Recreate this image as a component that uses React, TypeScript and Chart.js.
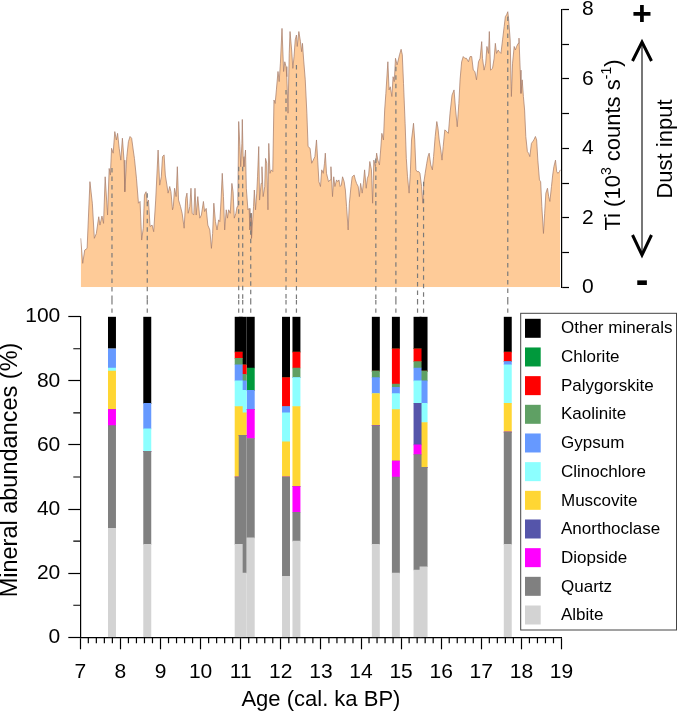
import React, { useEffect, useRef } from "react";
import { Chart, registerables } from "chart.js";

Chart.register(...registerables);

const FONT = "'Liberation Sans', Arial, Helvetica, sans-serif";
Chart.defaults.font.family = FONT;
Chart.defaults.color = "#000";

// ---------------- data ----------------
// Ti record (age in cal. ka BP, Ti in 10^3 counts s^-1)
const tiAge = [
  7.01, 7.06, 7.11, 7.17, 7.24, 7.30, 7.35, 7.40, 7.46, 7.49,
  7.54, 7.58, 7.62, 7.68, 7.72, 7.75, 7.78, 7.82, 7.86, 7.90,
  7.93, 7.97, 8.01, 8.05, 8.09, 8.11, 8.16, 8.20, 8.24, 8.28,
  8.32, 8.35, 8.40, 8.45, 8.49, 8.53, 8.57, 8.60, 8.64, 8.67,
  8.70, 8.74, 8.79, 8.83, 8.88, 8.94, 8.98, 9.02, 9.05, 9.09,
  9.12, 9.16, 9.19, 9.23, 9.26, 9.30, 9.32, 9.35, 9.39, 9.42,
  9.45, 9.50, 9.54, 9.59, 9.63, 9.66, 9.69, 9.73, 9.76, 9.79,
  9.83, 9.86, 9.89, 9.93,
  9.98, 10.02, 10.07, 10.10, 10.14, 10.18, 10.23, 10.27, 10.30, 10.33,
  10.37, 10.41, 10.45, 10.48, 10.51, 10.54, 10.57, 10.60, 10.64, 10.67,
  10.70, 10.74, 10.78, 10.81, 10.84, 10.88, 10.91, 10.93, 10.95, 10.98,
  11.00, 11.03, 11.04, 11.06, 11.08, 11.12, 11.14, 11.18, 11.21, 11.23,
  11.26, 11.27, 11.30, 11.32, 11.34, 11.37, 11.40, 11.42, 11.45, 11.47,
  11.51, 11.53, 11.56, 11.60, 11.62, 11.65, 11.68, 11.70, 11.73, 11.76,
  11.80, 11.83, 11.86, 11.89, 11.93, 11.96, 11.99, 12.03, 12.07, 12.10,
  12.13, 12.15, 12.18, 12.21, 12.23, 12.27, 12.30, 12.33, 12.36, 12.39,
  12.41, 12.45, 12.49, 12.52, 12.54, 12.57, 12.61, 12.65, 12.68, 12.73,
  12.77, 12.81, 12.85, 12.89, 12.92, 12.95, 12.99, 13.02, 13.06, 13.09,
  13.11, 13.14, 13.19, 13.23, 13.25, 13.29, 13.32, 13.35, 13.39, 13.42,
  13.45, 13.48, 13.51, 13.54, 13.58, 13.61, 13.64, 13.68, 13.71, 13.75,
  13.78, 13.83, 13.86, 13.89, 13.93, 13.96, 13.99, 14.03, 14.06, 14.09,
  14.13, 14.16, 14.19, 14.22, 14.26, 14.29, 14.32, 14.36, 14.39, 14.42,
  14.46, 14.49, 14.52, 14.56, 14.59, 14.62, 14.67, 14.70, 14.73, 14.77,
  14.80, 14.83, 14.86, 14.90, 14.93, 14.96, 15.00, 15.03, 15.06, 15.10,
  15.13, 15.16, 15.20, 15.23, 15.26, 15.31, 15.34, 15.37, 15.40, 15.44,
  15.47, 15.51, 15.54, 15.57, 15.60, 15.64, 15.67, 15.70, 15.74, 15.78,
  15.81, 15.85, 15.89, 15.92, 15.95, 15.99, 16.02, 16.05, 16.09,
  16.14, 16.18, 16.22, 16.27, 16.32, 16.36, 16.40, 16.44, 16.47, 16.51,
  16.55, 16.59, 16.63, 16.68, 16.72, 16.76, 16.80, 16.84, 16.88, 16.93,
  16.97, 17.01, 17.03, 17.07, 17.11, 17.14, 17.18, 17.20, 17.23, 17.28,
  17.32, 17.35, 17.38, 17.42, 17.45, 17.49, 17.53, 17.57, 17.60, 17.63,
  17.66, 17.68, 17.72, 17.75, 17.78, 17.82, 17.85, 17.88, 17.92, 17.94,
  17.97, 17.99, 18.02, 18.05, 18.08, 18.11, 18.15, 18.18, 18.21, 18.25,
  18.28, 18.31, 18.35, 18.38, 18.41, 18.45, 18.48, 18.51, 18.55, 18.58,
  18.61, 18.65, 18.68, 18.71, 18.75, 18.78, 18.81, 18.85, 18.88, 18.91,
  18.95, 18.97,
];
const tiValue = [
  1.41, 0.69, 1.07, 1.12, 3.04, 2.42, 1.41, 1.55, 2.03, 1.79,
  2.05, 1.84, 3.18, 2.08, 3.42, 3.23, 4.00, 3.86, 4.48, 4.24,
  4.43, 4.00, 3.66, 4.29, 3.66, 2.75, 3.76, 4.19, 4.34, 4.29,
  3.95, 3.71, 3.14, 2.42, 2.47, 1.36, 1.70, 2.66, 2.75, 2.42,
  2.51, 1.75, 1.79, 1.60, 2.51, 3.95, 2.94, 3.18, 3.76, 3.81,
  3.23, 2.94, 2.71, 2.90, 2.75, 2.23, 2.32, 2.85, 2.61, 3.47,
  2.51, 2.32, 2.13, 1.70, 2.56, 2.71, 2.13, 2.32, 2.85, 2.13,
  2.08, 2.85, 2.08, 2.61,
  1.99, 2.08, 2.47, 2.18, 2.27, 1.79, 1.65, 1.12, 1.55, 2.42,
  1.89, 1.65, 1.94, 1.89, 2.51, 3.28, 2.61, 1.65, 2.23, 1.99,
  2.23, 2.13, 2.99, 2.75, 1.99, 2.13, 2.32, 2.61, 4.77, 4.05,
  3.47, 4.14, 4.83, 3.76, 3.47, 3.95, 2.85, 2.23, 2.27, 1.65,
  2.13, 1.41, 1.94, 2.32, 2.80, 2.23, 2.71, 3.18, 4.05, 2.51,
  2.99, 3.47, 2.61, 2.90, 3.71, 3.57, 2.23, 4.14, 3.28, 3.38,
  3.33, 5.39, 5.29, 5.68, 6.21, 5.92, 6.45, 7.45, 6.21, 6.49,
  6.35, 6.06, 5.01, 6.73, 7.36, 6.83, 6.30, 6.64, 7.12, 7.26,
  6.93, 7.36, 7.07, 6.78, 7.02, 6.54, 5.97, 5.01, 4.05, 4.00,
  3.57, 3.66, 3.76, 4.24, 3.66, 3.04, 2.90, 3.38, 3.28, 3.57,
  3.86, 3.28, 3.04, 3.09, 3.47, 2.61, 3.18, 2.90, 3.09, 3.04,
  3.09, 2.90, 2.94, 3.18, 3.04, 2.80, 2.32, 1.65, 2.42, 2.90,
  3.18, 3.23, 3.09, 2.99, 2.90, 2.61, 2.99, 2.71, 2.99, 3.38,
  2.85, 3.14, 3.23, 3.62, 3.38, 2.42, 3.66, 3.47, 3.86, 3.66,
  3.52, 3.95, 4.43, 4.24, 5.10, 5.58, 6.49, 5.68, 5.77, 5.49,
  6.06, 5.92, 6.59, 6.40, 6.54, 6.69, 6.85, 6.69, 5.87, 4.72,
  3.71, 3.18, 2.71, 3.28, 4.24, 4.72, 4.24, 3.38, 3.33, 3.33,
  3.28, 2.90, 2.42, 3.04, 3.28, 3.57, 3.76, 3.86, 3.52, 3.38,
  3.76, 4.34, 4.77, 4.58, 4.24, 3.95, 3.66, 4.05, 4.53,
  4.48, 4.43, 5.01, 5.53, 5.68, 5.10, 4.62, 5.29, 5.97, 6.49,
  6.64, 6.59, 6.59, 6.49, 6.64, 6.64, 6.25, 6.21, 5.97, 6.49,
  6.59, 7.07, 6.59, 6.25, 6.45, 6.93, 6.73, 7.36, 6.25, 6.30,
  6.59, 7.02, 6.73, 6.83, 6.78, 6.73, 7.12, 7.50, 7.79, 7.84,
  7.93, 7.74, 7.12, 5.49, 6.45, 6.93, 6.83, 6.93, 7.02, 7.17,
  6.25, 5.58, 5.97, 5.49, 5.10, 4.34, 3.90, 3.86, 3.76, 4.14,
  4.19, 4.24, 4.34, 4.24, 3.66, 3.09, 3.04, 2.32, 1.55, 2.13,
  2.71, 2.85, 2.61, 2.47, 2.90, 3.23, 3.47, 3.66, 3.33, 3.28,
  3.33, 3.38,
];

// Mineral samples (age in cal. ka BP)
const sampleAge = [7.79, 8.67, 10.95, 11.05, 11.25, 12.13, 12.39, 14.37, 14.87, 15.41, 15.56, 17.66];
// Ti level where each connecting dashed line starts
const tiAtSample = [3.43, 2.71, 3.47, 3.47, 2.13, 5.68, 6.4, 3.71, 6.35, 3.09, 3.04, 7.79];

// Mineral abundances (%) per sample
const albite = [34, 29, 29, 20, 31, 19, 30, 29, 20, 21, 22, 29];
const quartz = [32, 29, 21, 43, 31, 31, 9, 37, 30, 36, 31, 35];
const diopside = [5, 0, 0, 0, 9, 0, 8, 0, 5, 3, 0, 0];
const anorthoclase = [0, 0, 0, 0, 0, 0, 0, 0, 0, 13, 0, 0];
const muscovite = [12, 0, 22, 7, 0, 11, 25, 10, 16, 0, 14, 9];
const clinochlore = [1, 7, 8, 7, 0, 9, 9, 0, 5, 7, 6, 12];
const gypsum = [6, 8, 5, 3, 6, 2, 0, 5, 2, 4, 7, 1];
const kaolinite = [0, 0, 2, 2, 0, 0, 3, 2, 1, 2, 3, 0];
const palygorskite = [0, 0, 2, 3, 0, 9, 5, 0, 11, 4, 0, 3];
const chlorite = [0, 0, 0, 0, 7, 0, 0, 0, 0, 0, 0, 0];
const otherMinerals = [10, 27, 11, 15, 16, 19, 11, 17, 10, 10, 17, 11];

const mineralNames = [
  "Albite", "Quartz", "Diopside", "Anorthoclase", "Muscovite", "Clinochlore",
  "Gypsum", "Kaolinite", "Palygorskite", "Chlorite", "Other minerals",
];
const mineralValues = [
  albite, quartz, diopside, anorthoclase, muscovite, clinochlore,
  gypsum, kaolinite, palygorskite, chlorite, otherMinerals,
];
const mineralColors = [
  "#d3d3d3", "#808080", "#ff00ff", "#5555aa", "#ffd633", "#8cffff",
  "#6699ff", "#5fa064", "#ff0000", "#00993c", "#000000",
];

// ---------------- layout ----------------
const W = 677;
const TOP_H = 300;
const BOT_H = 412;
const PLOT_L = 80.3;
const PLOT_R = 561.5;
const TI_TOP = 9.3;
const TI_BOTTOM = 287.3;
const MIN_TOP = 16.7; // bottom canvas coords
const MIN_BOTTOM = 337.3;

const topDecor = {
  id: "topDecor",
  afterDatasetsDraw(chart: any) {
    const { ctx } = chart;
    const xs = chart.scales.x;
    const ys = chart.scales.y;
    ctx.save();
    ctx.strokeStyle = "#7a7a7a";
    ctx.lineWidth = 1.2;
    ctx.setLineDash([4.5, 4]);
    sampleAge.forEach((a, i) => {
      const px = xs.getPixelForValue(a);
      ctx.beginPath();
      ctx.moveTo(px, ys.getPixelForValue(tiAtSample[i]));
      ctx.lineTo(px, chart.height);
      ctx.stroke();
    });
    ctx.restore();
  },
  afterDraw(chart: any) {
    const { ctx } = chart;
    // Axis title with superscripts
    const parts: [string, number, number][] = [
      ["Ti (10", 22, 0],
      ["3", 14, -9],
      [" counts s", 22, 0],
      ["-1", 14, -9],
      [")", 22, 0],
    ];
    ctx.save();
    let total = 0;
    parts.forEach((p) => {
      ctx.font = `${p[1]}px ${FONT}`;
      total += ctx.measureText(p[0]).width;
    });
    ctx.translate(620, 145);
    ctx.rotate(-Math.PI / 2);
    ctx.fillStyle = "#000";
    ctx.textAlign = "left";
    ctx.textBaseline = "alphabetic";
    let cx = -total / 2;
    parts.forEach((p) => {
      ctx.font = `${p[1]}px ${FONT}`;
      ctx.fillText(p[0], cx, p[2]);
      cx += ctx.measureText(p[0]).width;
    });
    ctx.restore();

    // Dust input label
    ctx.save();
    ctx.translate(671.5, 149);
    ctx.rotate(-Math.PI / 2);
    ctx.font = `22px ${FONT}`;
    ctx.fillStyle = "#000";
    ctx.textAlign = "center";
    ctx.textBaseline = "alphabetic";
    ctx.fillText("Dust input", 0, 0);
    ctx.restore();

    // Double arrow
    ctx.save();
    ctx.strokeStyle = "#555";
    ctx.lineWidth = 1.6;
    ctx.beginPath();
    ctx.moveTo(642, 44);
    ctx.lineTo(642, 253);
    ctx.stroke();
    ctx.strokeStyle = "#000";
    ctx.lineWidth = 3;
    ctx.lineJoin = "miter";
    ctx.beginPath();
    ctx.moveTo(632.5, 61);
    ctx.lineTo(642, 42);
    ctx.lineTo(651.5, 61);
    ctx.stroke();
    ctx.beginPath();
    ctx.moveTo(632.5, 235);
    ctx.lineTo(642, 255);
    ctx.lineTo(651.5, 235);
    ctx.stroke();
    ctx.restore();

    // + and - signs
    ctx.save();
    ctx.fillStyle = "#000";
    ctx.textAlign = "center";
    ctx.textBaseline = "alphabetic";
    ctx.font = `bold 34px ${FONT}`;
    ctx.fillText("+", 642, 25.3);
    ctx.font = `bold 38px ${FONT}`;
    ctx.fillText("-", 642, 292.6);
    ctx.restore();
  },
};

const botDecor = {
  id: "botDecor",
  afterDraw(chart: any) {
    const { ctx, chartArea } = chart;
    const xs = chart.scales.x;
    const ys = chart.scales.y;

    // minor ticks
    ctx.save();
    ctx.strokeStyle = "#000";
    ctx.lineWidth = 1.2;
    ctx.beginPath();
    for (let k = 1; k < 60; k++) {
      if (k % 5 === 0) continue;
      const px = xs.getPixelForValue(7 + k * 0.2);
      ctx.moveTo(px, chartArea.bottom);
      ctx.lineTo(px, chartArea.bottom + 6);
    }
    [10, 30, 50, 70, 90].forEach((v) => {
      const py = ys.getPixelForValue(v);
      ctx.moveTo(chartArea.left, py);
      ctx.lineTo(chartArea.left - 7, py);
    });
    ctx.stroke();
    ctx.restore();

    // dashed connectors
    ctx.save();
    ctx.strokeStyle = "#7a7a7a";
    ctx.lineWidth = 1.2;
    ctx.setLineDash([4.5, 4]);
    sampleAge.forEach((a) => {
      const px = xs.getPixelForValue(a);
      ctx.beginPath();
      ctx.moveTo(px, 0);
      ctx.lineTo(px, chartArea.top - 4);
      ctx.stroke();
    });
    ctx.restore();

    // y axis title
    ctx.save();
    ctx.translate(17, 170);
    ctx.rotate(-Math.PI / 2);
    ctx.font = `23.5px ${FONT}`;
    ctx.fillStyle = "#000";
    ctx.textAlign = "center";
    ctx.textBaseline = "alphabetic";
    ctx.fillText("Mineral abundances (%)", 0, 0);
    ctx.restore();

    // legend
    ctx.save();
    const bx = 520.7;
    const by = 13.3;
    const bw = 155.8;
    const bh = 316.7;
    ctx.fillStyle = "#fff";
    ctx.fillRect(bx, by, bw, bh);
    ctx.strokeStyle = "#444";
    ctx.lineWidth = 1;
    ctx.strokeRect(bx, by, bw, bh);
    ctx.font = `17px ${FONT}`;
    ctx.textAlign = "left";
    ctx.textBaseline = "middle";
    for (let i = 0; i < mineralNames.length; i++) {
      const k = mineralNames.length - 1 - i;
      const cy = 28.3 + i * 28.67;
      ctx.fillStyle = mineralColors[k];
      ctx.fillRect(525, cy - 9.5, 15.7, 19);
      ctx.fillStyle = "#000";
      ctx.fillText(mineralNames[k], 561, cy + 0.5);
    }
    ctx.restore();
  },
};

export default function App() {
  const topRef = useRef<HTMLCanvasElement>(null);
  const botRef = useRef<HTMLCanvasElement>(null);

  useEffect(() => {
    const tiPoints = tiAge.map((x, i) => ({ x, y: tiValue[i] }));
    const topChart = new Chart(topRef.current as HTMLCanvasElement, {
      type: "line",
      data: {
        datasets: [
          {
            data: tiPoints,
            borderColor: "#a87f6c",
            borderWidth: 0.75,
            backgroundColor: "#fecb98",
            fill: "origin",
            pointRadius: 0,
            tension: 0,
          },
        ],
      },
      options: {
        responsive: false,
        animation: false,
        events: [],
        layout: {
          autoPadding: false,
          padding: { left: PLOT_L, right: 0, top: TI_TOP, bottom: TOP_H - TI_BOTTOM },
        },
        plugins: { legend: { display: false }, tooltip: { enabled: false } },
        scales: {
          x: { type: "linear", min: 7, max: 19, display: false },
          y: {
            position: "right",
            min: 0,
            max: 8,
            afterFit: (s: any) => {
              s.width = W - PLOT_R;
              s.paddingTop = 0;
              s.paddingBottom = 0;
            },
            ticks: {
              stepSize: 1,
              callback: (v: any) => (Number(v) % 2 === 0 ? String(v) : ""),
              font: { size: 21, family: FONT },
              color: "#000",
              padding: 13,
            },
            grid: {
              drawOnChartArea: false,
              drawTicks: true,
              tickLength: 7.5,
              tickColor: "#000",
              tickWidth: 1.2,
            },
            border: { display: true, color: "#000", width: 1.2 },
          },
        },
      } as any,
      plugins: [topDecor],
    });

    const botChart = new Chart(botRef.current as HTMLCanvasElement, {
      type: "bar",
      data: {
        datasets: mineralNames.map((name, k) => ({
          label: name,
          data: sampleAge.map((x, i) => ({ x, y: mineralValues[k][i] })),
          backgroundColor: mineralColors[k],
          borderWidth: 0,
          barThickness: 7.3,
        })),
      },
      options: {
        responsive: false,
        animation: false,
        events: [],
        layout: {
          autoPadding: false,
          padding: { left: 0, right: W - PLOT_R, top: MIN_TOP, bottom: 0 },
        },
        plugins: { legend: { display: false }, tooltip: { enabled: false } },
        scales: {
          x: {
            type: "linear",
            min: 7,
            max: 19,
            offset: false,
            stacked: true,
            afterFit: (s: any) => {
              s.height = BOT_H - MIN_BOTTOM;
              s.paddingLeft = 0;
              s.paddingRight = 0;
            },
            ticks: {
              stepSize: 1,
              autoSkip: false,
              maxRotation: 0,
              font: { size: 21, family: FONT },
              color: "#000",
              padding: 10,
            },
            grid: {
              offset: false,
              drawOnChartArea: false,
              drawTicks: true,
              tickLength: 12,
              tickColor: "#000",
              tickWidth: 1.2,
            },
            border: { display: true, color: "#000", width: 1.2 },
            title: {
              display: true,
              text: "Age (cal. ka BP)",
              font: { size: 22, family: FONT, lineHeight: 1.1 },
              color: "#000",
              padding: { top: 0, bottom: 0 },
            },
          },
          y: {
            min: 0,
            max: 100,
            stacked: true,
            afterFit: (s: any) => {
              s.width = PLOT_L;
              s.paddingTop = 0;
              s.paddingBottom = 0;
            },
            ticks: {
              stepSize: 20,
              font: { size: 21, family: FONT },
              color: "#000",
              padding: 8,
            },
            grid: {
              drawOnChartArea: false,
              drawTicks: true,
              tickLength: 12,
              tickColor: "#000",
              tickWidth: 1.2,
            },
            border: { display: true, color: "#000", width: 1.2 },
          },
        },
      } as any,
      plugins: [botDecor],
    });

    return () => {
      topChart.destroy();
      botChart.destroy();
    };
  }, []);

  return (
    <div
      style={{
        position: "absolute",
        left: 0,
        top: 0,
        width: W,
        height: TOP_H + BOT_H,
        background: "#fff",
        overflow: "hidden",
      }}
    >
      <canvas
        ref={topRef}
        width={W}
        height={TOP_H}
        style={{ position: "absolute", left: 0, top: 0, width: W, height: TOP_H }}
      />
      <canvas
        ref={botRef}
        width={W}
        height={BOT_H}
        style={{ position: "absolute", left: 0, top: TOP_H, width: W, height: BOT_H }}
      />
    </div>
  );
}
